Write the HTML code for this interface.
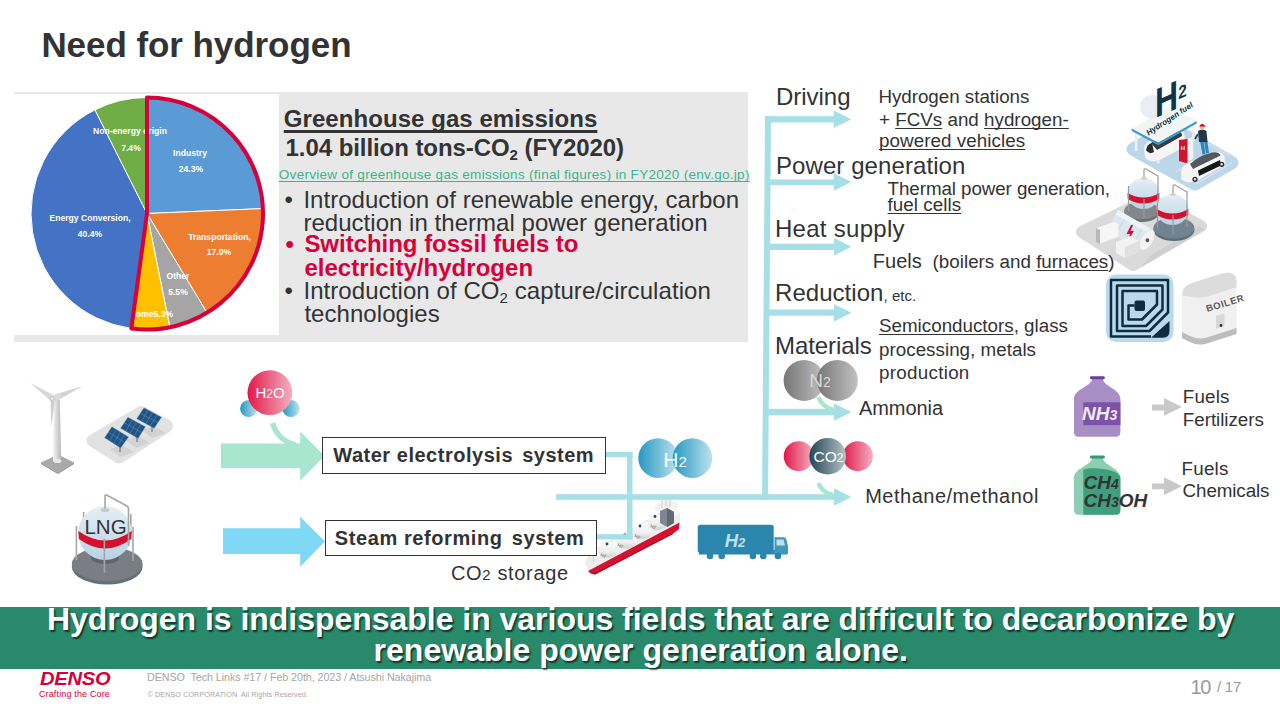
<!DOCTYPE html><html><head><meta charset="utf-8"><title>Need for hydrogen</title><style>
*{margin:0;padding:0;box-sizing:border-box}
html,body{width:1280px;height:720px;overflow:hidden;background:#fff}
body{position:relative;font-family:"Liberation Sans",sans-serif;color:#333}
.t{position:absolute;line-height:1;white-space:nowrap}
.ul{text-decoration:underline;text-decoration-thickness:1px;text-underline-offset:1.5px;text-decoration-skip-ink:none}
.u2{text-decoration:underline;text-decoration-thickness:3px;text-underline-offset:2.5px;text-decoration-skip-ink:none}
.sub{font-size:15px;position:relative;top:4px}
.bul{position:absolute;left:-19px}
.abs{position:absolute}
</style></head><body>
<div class="abs shape" style="left:14px;top:92px;width:734px;height:250px;background:#e8e8e8"></div>
<div class="abs shape" style="left:14px;top:94px;width:265px;height:241px;background:#fff"></div>
<svg class="abs" style="left:0;top:0" width="1280" height="720" viewBox="0 0 1280 720">
<defs>
<linearGradient id="gRed" x1="0" x2="1"><stop offset="0" stop-color="#e2184a"/><stop offset="1" stop-color="#f3b1c1"/></linearGradient>
<linearGradient id="gBlue" x1="0" x2="1"><stop offset="0" stop-color="#2598c2"/><stop offset="1" stop-color="#bde2ee"/></linearGradient>
<linearGradient id="gGrey" x1="0" x2="1"><stop offset="0" stop-color="#767676"/><stop offset="1" stop-color="#c2c2c2"/></linearGradient>
<linearGradient id="gTeal" x1="0" x2="1"><stop offset="0" stop-color="#244654"/><stop offset="1" stop-color="#b3c2c9"/></linearGradient>
<linearGradient id="gTower" x1="0" x2="1"><stop offset="0" stop-color="#f4f4f4"/><stop offset="1" stop-color="#b8b8b8"/></linearGradient>
<linearGradient id="gSphere" x1="0" y1="0" x2="0" y2="1"><stop offset="0" stop-color="#e6eff6"/><stop offset="1" stop-color="#b9d2e3"/></linearGradient>
</defs>
<!-- ship -->
<defs><linearGradient id="gDome" x1="0" y1="0" x2="0" y2="1"><stop offset="0" stop-color="#fafafa"/><stop offset="0.6" stop-color="#efefef"/><stop offset="1" stop-color="#cfcfcf"/></linearGradient></defs>
<g>
<polygon points="585,562.5 589,553 664,511 676,509 680,513 680,522 675,532 595,574.5 588,570" fill="#ededed"/>
<polygon points="589,553 664,511 676,509 680,513 593,560" fill="#f8f8f8"/>
<polygon points="588,571 679.5,522.5 679,529 672,534.5 595,574.5 590,573" fill="#d6102f"/>
<polygon points="590,573 595,574.5 672,534.5 674,532.5 596,572.5" fill="#a50c24"/>
<line x1="589" y1="553" x2="664" y2="511" stroke="#d8d8d8" stroke-width="0.8"/>
<g fill="url(#gDome)">
<ellipse cx="608" cy="550" rx="10" ry="7.5"/><ellipse cx="626" cy="541" rx="10" ry="7.5"/><ellipse cx="642.5" cy="531.5" rx="10" ry="7.5"/><ellipse cx="657.5" cy="522.5" rx="10" ry="7.5"/>
</g>
<g fill="#1d4a66"><circle cx="607" cy="544" r="1.4"/><circle cx="625" cy="535" r="1.4"/><circle cx="640" cy="526" r="1.4"/><circle cx="655" cy="516.5" r="1.4"/></g>
<g font-family="Liberation Sans" font-size="4.5" fill="#555"><text x="600" y="556" transform="rotate(25 600 556)">H2</text><text x="617" y="546" transform="rotate(25 617 546)">H2</text><text x="634" y="537" transform="rotate(25 634 537)">H2</text><text x="650" y="527" transform="rotate(25 650 527)">H2</text></g>
<polygon points="655,505 668,498 678,503 678,508 665,514 655,510" fill="#f2f2f2"/>
<polygon points="660,511 667,508 674,512 674,523 667,527 660,523" fill="#7e8891"/>
<polygon points="667,508 674,512 674,523 667,527" fill="#5f6a73"/>
<g stroke="#d0d0d0" stroke-width="1"><line x1="662" y1="500" x2="662" y2="508"/><line x1="666" y1="498" x2="666" y2="506"/><line x1="670" y1="500" x2="670" y2="507"/><line x1="593.5" y1="543" x2="593.5" y2="562"/></g>
</g>

<g fill="#a6dfe6">
<polygon points="765,116 771,116 768,500 762,500"/>
<rect x="765" y="116.2" width="69" height="6.3"/><polygon points="833.7,110.6 851.3,119.3 833.7,128.1"/>
<rect x="767" y="179.4" width="67" height="5.6"/><polygon points="833.7,173.1 851.3,182 833.7,190.8"/>
<rect x="767" y="243.7" width="67" height="6.3"/><polygon points="834,238 851.5,246.8 834,255.6"/>
<rect x="766" y="309.5" width="68" height="6.2"/><polygon points="834,304.2 851.5,312.8 834,321.5"/>
<rect x="764" y="408.8" width="70" height="6.5"/><polygon points="834,403.4 851.4,412 834,420.7"/>
<rect x="556" y="494.2" width="278" height="5.6"/><polygon points="834,488.3 851.4,497 834,505.7"/>
<rect x="605" y="451.9" width="27.5" height="5.2"/>
<rect x="627" y="451.9" width="5.5" height="87.5"/>
<rect x="596" y="534.2" width="36.5" height="5.2"/>
</g>
<polygon fill="#a8e6cf" points="221,443.5 300.2,443.5 300.2,431.6 324.5,456 300.2,480.7 300.2,468.3 221,468.3"/>
<path d="M272.5,423 Q278,441 296,445" fill="none" stroke="#a8e6cf" stroke-width="5.5"/>
<polygon fill="#7fd9f6" points="223,528.3 300.2,528.3 300.2,516.7 325,541.5 300.2,566.7 300.2,554 223,554"/>
<rect x="322.5" y="437.5" width="283" height="36" fill="#fff" stroke="#333" stroke-width="1"/>
<rect x="325.5" y="520.5" width="271" height="35" fill="#fff" stroke="#333" stroke-width="1"/>
<rect x="0" y="607" width="1280" height="62" fill="#288a6a"/>
<path d="M147,213.5 L147.00,97.50 A116,116 0 0 1 262.90,208.58 Z" fill="#5b9bd5" stroke="#fff" stroke-width="1"/>
<path d="M147,213.5 L262.90,208.58 A116,116 0 0 1 207.04,312.75 Z" fill="#ed7d31" stroke="#fff" stroke-width="1"/>
<path d="M147,213.5 L207.04,312.75 A116,116 0 0 1 169.83,327.23 Z" fill="#a5a5a5" stroke="#fff" stroke-width="1"/>
<path d="M147,213.5 L169.83,327.23 A116,116 0 0 1 131.36,328.44 Z" fill="#ffc000" stroke="#fff" stroke-width="1"/>
<path d="M147,213.5 L131.36,328.44 A116,116 0 0 1 94.94,109.84 Z" fill="#4472c4" stroke="#fff" stroke-width="1"/>
<path d="M147,213.5 L94.94,109.84 A116,116 0 0 1 147.00,97.50 Z" fill="#70ad47" stroke="#fff" stroke-width="1"/><g font-family="Liberation Sans" font-size="8.6" font-weight="700" fill="#fff" text-anchor="middle">
<text x="130" y="134.4">Non-energy origin</text><text x="131" y="150.8">7.4%</text>
<text x="190" y="156">Industry</text><text x="191" y="172.3">24.3%</text>
<text x="90" y="221.3">Energy Conversion,</text><text x="90" y="236.5">40.4%</text>
<text x="219.5" y="240">Transportation,</text><text x="219" y="255">17.0%</text>
<text x="178" y="279.2">Other</text><text x="178" y="294.9">5.5%</text>
<text x="154.5" y="317.4">ome5.3%</text>
</g>
<path d="M147,213.5 L147.00,97.50 A116,116 0 1 1 131.36,328.44 Z" fill="none" stroke="#d7003a" stroke-width="4" stroke-linejoin="round"/>
<!-- H2O -->
<circle cx="248.7" cy="408.5" r="8.6" fill="url(#gBlue)"/>
<circle cx="291" cy="408.5" r="8.6" fill="url(#gBlue)"/>
<circle cx="269.9" cy="392.7" r="22.4" fill="url(#gRed)"/>
<text x="270" y="398.3" font-family="Liberation Sans" font-size="15" fill="#fff" text-anchor="middle">H<tspan font-size="12">2</tspan>O</text>
<!-- N2 -->
<circle cx="804.1" cy="380.4" r="20.5" fill="url(#gGrey)"/>
<circle cx="837.4" cy="380.4" r="20.5" fill="url(#gGrey)"/>
<text x="820" y="387.3" font-family="Liberation Sans" font-size="19" fill="#d8d8d8" text-anchor="middle">N<tspan font-size="14">2</tspan></text>
<path d="M818.5,397 Q821,406 833,410" fill="none" stroke="#a8e6cf" stroke-width="4.5"/>
<!-- CO2 -->
<circle cx="798.7" cy="456.2" r="15" fill="url(#gRed)"/>
<circle cx="857.9" cy="456.2" r="15" fill="url(#gRed)"/>
<circle cx="827.7" cy="456.2" r="18.3" fill="url(#gTeal)"/>
<text x="828.5" y="462" font-family="Liberation Sans" font-size="15.5" fill="#fff" text-anchor="middle">CO<tspan font-size="12">2</tspan></text>
<path d="M818.5,483 Q821,492 833,495" fill="none" stroke="#a8e6cf" stroke-width="4.5"/>
<!-- H2 -->
<circle cx="658.1" cy="458.1" r="19.8" fill="url(#gBlue)"/>
<circle cx="692.5" cy="458.1" r="19.8" fill="url(#gBlue)"/>
<text x="675" y="466.5" font-family="Liberation Sans" font-size="21" fill="#fff" text-anchor="middle">H<tspan font-size="15">2</tspan></text>
<!-- truck -->
<g>
<rect x="697.7" y="524.8" width="76" height="28" rx="2.5" fill="#2a86ad"/>
<rect x="699" y="550" width="88" height="4.5" fill="#2a86ad"/>
<path d="M774.5,537.3 L784,537.3 Q786,537.3 786.5,540 L788,546 L788,554 L774.5,554 Z" fill="#3f97bb"/>
<path d="M776.5,539.5 L783.5,539.5 L785,545.5 L776.5,545.5 Z" fill="#bfe0ec"/>
<g fill="#2a86ad"><circle cx="710" cy="556" r="3.3"/><circle cx="721.7" cy="556" r="3.3"/><circle cx="752.9" cy="556" r="3.3"/><circle cx="763.3" cy="556" r="3.3"/><circle cx="777.9" cy="556" r="3.3"/></g>
<text x="735" y="546.5" font-family="Liberation Sans" font-size="18.5" font-weight="700" font-style="italic" fill="#bfe0ec" text-anchor="middle">H<tspan font-size="13">2</tspan></text>
</g>
<!-- LNG tank -->
<g>
<ellipse cx="107.2" cy="566.5" rx="35.4" ry="18" fill="#64717a"/>
<ellipse cx="107.2" cy="564" rx="35.4" ry="17" fill="#7a7e84"/>
<ellipse cx="105" cy="558" rx="14" ry="6" fill="#5f656b"/>
<g stroke="#a6a6a6" stroke-width="1.6"><line x1="76.4" y1="526" x2="76.4" y2="560"/><line x1="83.6" y1="512" x2="83.6" y2="530"/><line x1="133" y1="527" x2="133" y2="561"/><line x1="130.8" y1="514" x2="130.8" y2="530"/></g>
<circle cx="105.1" cy="533" r="27" fill="url(#gSphere)"/>
<path d="M78.4,531 Q105,550 131.8,531 L131.2,539 Q105,558 78.9,539 Z" fill="#d5102e"/>
<path d="M105,509 L105,496 Q105,494.5 107,495.3 L127,506 Q128.5,507 128.5,509 L128.5,546" fill="none" stroke="#a6a6a6" stroke-width="1.6"/>
<ellipse cx="105" cy="510" rx="4.5" ry="2" fill="#c8c8c8"/>
<line x1="104.4" y1="538.6" x2="104.4" y2="572.6" stroke="#a6a6a6" stroke-width="1.6"/>
<text x="105.5" y="534.4" font-family="Liberation Sans" font-size="20.5" fill="#333" text-anchor="middle">LNG</text>
</g>
<!-- wind turbine -->
<g>
<polygon points="41.1,462.5 57.9,454.5 74,462.5 57.9,472.7" fill="#a9a9a9"/>
<polygon points="41.1,462.5 57.9,472.7 74,462.5 74,464 57.9,474 41.1,464" fill="#8c8c8c"/>
<polygon points="53.8,400 59.8,400 61.2,461 53,461" fill="url(#gTower)"/>
<ellipse cx="57.5" cy="461" rx="4" ry="2" fill="#e8e8e8"/>
<polygon points="30.2,383 53.5,395 51,401" fill="#d8d8d8"/>
<polygon points="82.7,386 54.5,394.5 56.5,401" fill="#d4d4d4"/>
<polygon points="50.5,400 54.5,401 51.4,427.5" fill="#cfcfcf"/>
<polygon points="52,396 60,393 62,398 54,402" fill="#dcdcdc"/>
<circle cx="52.1" cy="398.5" r="2" fill="#f0f0f0" stroke="#aaa" stroke-width="0.6"/>
</g>
<!-- solar -->
<g>
<polygon points="93,440.6 141,412.5 166.5,426 119.2,457" fill="#e2e2e2" stroke="#e2e2e2" stroke-width="13" stroke-linejoin="round"/>
<g fill="#d2d2d2"><polygon points="110,449 122,445 134,452 120,457"/><polygon points="126,440 138,436 150,443 136,448"/><polygon points="142,430 154,426 166,433 152,438"/></g>
<g stroke="#777" stroke-width="1.2"><line x1="120" y1="443" x2="120" y2="452"/><line x1="137" y1="433" x2="137" y2="442"/><line x1="152" y1="423" x2="152" y2="432"/></g>
<g fill="#1f5487" stroke="#6f93b5" stroke-width="0.4">
<polygon points="104.6,437.7 111.9,426.8 128.6,437 120.6,447.9"/>
<polygon points="120.6,428.2 127.9,417.3 145.4,426.8 138.1,438.4"/>
<polygon points="136.7,418.8 144,407.8 161.5,417.3 154.2,428.2"/>
</g>
<g stroke="#6f93b5" stroke-width="0.5">
<line x1="108.2" y1="432.2" x2="124.6" y2="442.4"/><line x1="124.2" y1="422.7" x2="141.7" y2="432.6"/><line x1="140.3" y1="413.3" x2="157.8" y2="422.7"/>
<line x1="116" y1="429.5" x2="110" y2="440.8"/><line x1="120.2" y1="432" x2="114" y2="443"/><line x1="124.4" y1="434.5" x2="118" y2="445.5"/>
<line x1="132" y1="420" x2="126" y2="431"/><line x1="136.3" y1="422.3" x2="130" y2="433.5"/><line x1="140.8" y1="424.5" x2="134" y2="436"/>
<line x1="148" y1="410" x2="142" y2="421"/><line x1="152.5" y1="412.5" x2="146" y2="423.5"/><line x1="157" y1="415" x2="150" y2="426"/>
</g>
</g>
<!-- bottles -->
<g>
<path d="M1092,379 L1103,379 C1103,386 1120.4,389 1120.4,399 L1120.4,432 Q1120.4,436.7 1116,436.7 L1078.5,436.7 Q1074,436.7 1074,432 L1074,399 C1074,389 1092,386 1092,379 Z" fill="#a98ec6"/>
<rect x="1090" y="376.2" width="14.8" height="3" rx="1.2" fill="#6b3d9d"/>
<rect x="1083.3" y="402.3" width="37.1" height="22.9" fill="#7b52a9"/>
<text x="1082" y="420" font-family="Liberation Sans" font-size="19" font-weight="700" font-style="italic" fill="#efeaf4">NH<tspan font-size="14">3</tspan></text>
</g>
<g>
<path d="M1092,458 L1103,458 C1103,465 1120.4,468 1120.4,478 L1120.4,510 Q1120.4,514.8 1116,514.8 L1078.5,514.8 Q1074,514.8 1074,510 L1074,478 C1074,468 1092,465 1092,458 Z" fill="#8dcdb3"/>
<path d="M1083.3,469.5 C1095,466 1120.4,470 1120.4,478 L1120.4,510 Q1120.4,514.8 1116,514.8 L1083.3,514.8 Z" fill="#3fa07e"/>
<rect x="1090" y="455.4" width="14.8" height="3" rx="1.2" fill="#2f9a74"/>
<text x="1083.5" y="488.75" font-family="Liberation Sans" font-size="19" font-weight="700" font-style="italic" fill="#333">CH<tspan font-size="14">4</tspan></text>
<text x="1083.5" y="506.5" font-family="Liberation Sans" font-size="19" font-weight="700" font-style="italic" fill="#333">CH<tspan font-size="14">3</tspan>OH</text>
</g>
<g fill="#c9c9c9">
<polygon points="1152,404.4 1164,404.4 1164,398 1181.9,407 1164,415.8 1164,410.6 1152,410.6"/>
<polygon points="1152,483.5 1164,483.5 1164,477.3 1181.9,486.2 1164,495 1164,489.2 1152,489.2"/>
</g>
<!-- chip icon -->
<g>
<rect x="1106" y="274.5" width="67.5" height="67.5" rx="10" fill="#b9d9ec"/>
<path d="M1134.5,305.5 L1128.5,305.5 L1128.5,319.5 L1142.0,319.5 L1157.0,304.5 L1157.0,291.0 L1122.5,291.0 L1122.5,326.0 L1146.0,326.0 L1162.5,309.5 L1162.5,285.5 L1117.0,285.5 L1117.0,331.0 L1149.5,331.0 L1168.0,312.5 L1168.0,280.0 L1111.0,280.0 L1111.0,336.5 L1151.0,336.5" fill="none" stroke="#0d2c3e" stroke-width="2.5" stroke-linejoin="round"/>
<rect x="1134.5" y="300.5" width="10.5" height="10.5" rx="2" fill="#0d2c3e"/>
<path d="M1151,337.8 L1169.5,321 L1169.5,331 Q1169.5,337.8 1163,337.8 Z" fill="#0d2c3e"/>
</g>
<!-- boiler -->
<g>
<path d="M1182,296 Q1182,286 1192,283 L1222,273.5 Q1236.5,270 1236.5,282 L1236.5,334 L1206,343.8 Q1198,346 1190,342 L1182,338 Z" fill="#f0f0f0"/>
<path d="M1182,296 Q1182,286 1192,283 L1222,273.5 Q1236.5,270 1236.5,282 L1236.5,287 L1206,297 Q1196,299 1187,296 Z" fill="#dcdcdc"/>
<path d="M1182,332 L1190,336 Q1198,340 1206,337.8 L1236.5,328 L1236.5,334 L1206,343.8 Q1198,346 1190,342 L1182,338 Z" fill="#bdbdbd"/>
<text x="1225" y="306.5" font-family="Liberation Sans" font-size="9.5" font-weight="700" fill="#5a5a5a" text-anchor="middle" transform="rotate(-17 1225 303)" letter-spacing="0.6">BOILER</text>
<rect x="1216" y="315.5" width="8.5" height="13" fill="#d8d8d8" transform="skewY(-17) translate(0 372)"/>
<circle cx="1221" cy="325.5" r="1.4" fill="#333"/>
</g>
<!-- power plant -->
<g>
<polygon points="1082,232 1149.4,199 1201,226 1133,265" fill="#dadada" stroke="#dadada" stroke-width="12" stroke-linejoin="round"/>
<polygon points="1150,256 1199,226 1205,229 1140,268" fill="#cfcfcf"/>
<ellipse cx="1141.8" cy="212.5" rx="17.5" ry="9.5" fill="#6a7076"/>
<ellipse cx="1141.8" cy="210.5" rx="17.5" ry="9" fill="#83878c"/>
<ellipse cx="1143.5" cy="193.5" rx="16" ry="15.5" fill="url(#gSphere)"/>
<path d="M1127.6,193 Q1143.5,202 1159.4,193 L1159.2,199 Q1143.5,208 1127.8,199 Z" fill="#d5102e"/>
<path d="M1144,178 L1144,170 Q1144,168.5 1146,169 L1158,176 L1158,210" fill="none" stroke="#999" stroke-width="1.2"/>
<ellipse cx="1144" cy="178.5" rx="3" ry="1.3" fill="#ccc"/>
<g stroke="#999" stroke-width="1.2"><line x1="1128.5" y1="186" x2="1128.5" y2="211"/><line x1="1144" y1="199" x2="1144" y2="218"/></g>
<ellipse cx="1173.9" cy="230" rx="20.5" ry="11" fill="#5d6c78"/>
<ellipse cx="1173.9" cy="228" rx="20.5" ry="10.5" fill="#72828f"/>
<ellipse cx="1172.5" cy="209.5" rx="16" ry="15.5" fill="url(#gSphere)"/>
<path d="M1156.6,209 Q1172.5,218 1188.4,209 L1188.2,215 Q1172.5,224 1156.8,215 Z" fill="#d5102e"/>
<path d="M1173,194 L1173,186 Q1173,184.5 1175,185 L1187,192 L1187,227" fill="none" stroke="#999" stroke-width="1.2"/>
<ellipse cx="1173" cy="194.5" rx="3" ry="1.3" fill="#ccc"/>
<g stroke="#999" stroke-width="1.2"><line x1="1157.5" y1="202" x2="1157.5" y2="228"/><line x1="1173" y1="215" x2="1173" y2="234"/></g>
<g transform="translate(1147,240) rotate(30)">
<rect x="-40" y="-11.5" width="40" height="23" fill="#dbe8f1"/>
<g stroke="#c3d7e5" stroke-width="0.9"><line x1="-30" y1="-11.5" x2="-30" y2="11.5"/><line x1="-20" y1="-11.5" x2="-20" y2="11.5"/><line x1="-10" y1="-11.5" x2="-10" y2="11.5"/></g>
<rect x="-40" y="-11.5" width="40" height="5" fill="#eef4f8"/>
<ellipse cx="0" cy="0" rx="6" ry="11.5" fill="#f3f3f3" stroke="#dadada" stroke-width="0.6"/>
<circle cx="0.5" cy="0" r="1.9" fill="#555"/>
</g>
<path d="M1131,225 L1126.5,234 L1130,234 L1127,242 L1134,231 L1130.5,231 L1133,225 Z" fill="#d5102e"/>
<polygon points="1096,228 1115,221 1119,224 1119,237 1100,244 1096,242" fill="#f6f6f6" stroke="#d9d9d9" stroke-width="0.6"/>
<polygon points="1096,228 1100,230 1100,244 1096,242" fill="#b9b9b9"/>
<polygon points="1116,242 1130,236 1139,241 1139,252 1125,258 1116,253" fill="#f2f2f2"/>
<polygon points="1125,247 1139,241 1139,252 1125,258" fill="#e0e0e0"/>
</g>
<!-- hydrogen station -->
<g>
<polygon points="1133,149.3 1170,127 1232,162.7 1195,184" fill="#bcd6ea" stroke="#bcd6ea" stroke-width="13" stroke-linejoin="round"/>
<g stroke="#e8f0f7" stroke-width="0.8" fill="none"><line x1="1196" y1="184" x2="1232" y2="163"/><line x1="1176" y1="172" x2="1200" y2="158"/><line x1="1205" y1="142" x2="1230" y2="156"/></g>
<g fill="#f0f0f0"><rect x="1134.8" y="131" width="2.6" height="20"/><rect x="1157" y="143" width="2.6" height="20.5"/><rect x="1192.3" y="124" width="2.4" height="17"/></g>
<path d="M1144,152 Q1142,144 1152,139 L1176,130 Q1184,128 1185,136 L1185,147 L1160,160 Q1150,164 1145,158 Z" fill="#f5f5f5" stroke="#d0d0d0" stroke-width="0.5"/>
<path d="M1151,143 Q1160,136 1177,131 Q1182,131 1182,136 L1157,150 Z" fill="#3a3d40"/>
<path d="M1146,150 Q1147,144 1152,143 L1154,152 Q1149,155 1146,150 Z" fill="#2a2d30"/>
<polygon points="1187.5,139 1193.3,136.8 1193.3,158 1187.5,163.5" fill="#f2f2f2"/>
<polygon points="1179,140 1187.5,139 1187.5,163.5 1179,161" fill="#d6102f"/>
<text x="1183" y="150" font-family="Liberation Sans" font-size="6" font-weight="700" fill="#fff" text-anchor="middle">H</text>
<path d="M1200,141 L1203.5,141 L1205.5,154 L1202.5,154.5 Z M1204,141 L1207.3,141 L1209,153 L1206,153.5 Z" fill="#2e86bd"/>
<path d="M1198,131 Q1202,128 1206.5,131 L1207.5,142 L1199,142 Z" fill="#23394a"/>
<path d="M1198,134 L1195,139" stroke="#23394a" stroke-width="1.6"/>
<circle cx="1202" cy="127.5" r="2.4" fill="#e6bfa4"/>
<path d="M1199,126.5 Q1202,121.5 1205,126 L1206.5,126.8 Z" fill="#d6102f"/>
<path d="M1181,175 Q1179,167 1189,162 L1211,152.5 Q1222,149 1225,157 L1225.5,165 L1197,181 Q1186,185 1181,179 Z" fill="#f5f5f5" stroke="#d0d0d0" stroke-width="0.5"/>
<path d="M1190,164 Q1198,156 1212,152.5 Q1219,151.5 1220.5,155.5 L1193,169 Z" fill="#55595d"/>
<path d="M1198,170.5 L1220,160 L1221,165.5 L1199,176 Z" fill="#15181a"/>
<circle cx="1195" cy="179.3" r="2.6" fill="#2b2b2b"/><circle cx="1195" cy="179.3" r="1.2" fill="#e0e0e0"/>
<circle cx="1221.7" cy="164.3" r="2.6" fill="#2b2b2b"/><circle cx="1221.7" cy="164.3" r="1.2" fill="#e0e0e0"/>
<polygon points="1131.7,128.5 1170,106.5 1196.7,121 1158.3,142.7" fill="#f2f4f6"/>
<polygon points="1131.7,128.5 1158.3,142.7 1158.3,145.2 1131.7,131" fill="#3c9ad0"/>
<polygon points="1158.3,142.7 1196.7,121 1196.7,123.5 1158.3,145.2" fill="#3c9ad0"/>
<circle cx="1151.7" cy="106.8" r="11.7" fill="#e8eef3"/>
<g transform="translate(1166.5,113) skewY(-24)"><text x="0" y="0" font-family="Liberation Sans" font-size="41" font-weight="700" fill="#10354a" text-anchor="middle" transform="scale(0.78 1)">H</text></g>
<g transform="translate(1182.5,97.5) skewY(-24)"><text x="0" y="0" font-family="Liberation Sans" font-size="18" font-weight="700" fill="#10354a" text-anchor="middle" transform="scale(0.85 1)">2</text></g>
<text x="1171" y="121" font-family="Liberation Sans" font-size="8" font-weight="700" font-style="italic" fill="#10354a" text-anchor="middle" transform="rotate(-33 1171 121)">Hydrogen fuel</text>
</g>

</svg>
<div class="t" id="title" style="left:41.40px;top:26.51px;font-size:35px;font-weight:700;color:#333;letter-spacing:-0.063px;">Need for hydrogen</div>
<div class="t" id="ghg" style="left:283.80px;top:106.60px;font-size:24px;font-weight:700;color:#333;letter-spacing:0.061px;"><span class="u2">Greenhouse gas emissions</span></div>
<div class="t" id="bil" style="left:285.60px;top:135.51px;font-size:24px;font-weight:700;color:#333;letter-spacing:-0.068px;">1.04 billion tons-CO<span class="sub">2</span> (FY2020)</div>
<div class="t" id="link" style="left:278.80px;top:167.60px;font-size:13.5px;font-weight:400;color:#3cb48c;letter-spacing:0.293px;"><span class="ul">Overview of greenhouse gas emissions (final figures) in FY2020 (env.go.jp)</span></div>
<div class="t" id="b1" style="left:303.40px;top:187.60px;font-size:24px;font-weight:400;color:#333;letter-spacing:0.030px;"><span class="bul">•</span>Introduction of renewable energy, carbon</div>
<div class="t" id="b2" style="left:303.40px;top:210.60px;font-size:24px;font-weight:400;color:#333;letter-spacing:0.033px;">reduction in thermal power generation</div>
<div class="t" id="b3" style="left:304.40px;top:232.40px;font-size:24px;font-weight:700;color:#d7003a;letter-spacing:-0.024px;"><span class="bul">•</span>Switching fossil fuels to</div>
<div class="t" id="b4" style="left:304.40px;top:256.01px;font-size:24px;font-weight:700;color:#d7003a;letter-spacing:0.032px;">electricity/hydrogen</div>
<div class="t" id="b5" style="left:303.40px;top:279.01px;font-size:24px;font-weight:400;color:#333;letter-spacing:0.077px;"><span class="bul">•</span>Introduction of CO<span class="sub">2</span> capture/circulation</div>
<div class="t" id="b6" style="left:304.40px;top:301.51px;font-size:24px;font-weight:400;color:#333;letter-spacing:0.054px;">technologies</div>
<div class="t" id="drv" style="left:776.00px;top:84.81px;font-size:24px;font-weight:400;color:#333;letter-spacing:-0.033px;">Driving</div>
<div class="t" id="hs1" style="left:878.40px;top:87.51px;font-size:18.8px;font-weight:400;color:#333;letter-spacing:-0.025px;">Hydrogen stations</div>
<div class="t" id="hs2" style="left:879.00px;top:110.60px;font-size:18.8px;font-weight:400;color:#333;letter-spacing:0.011px;">+ <span class="ul">FCVs</span> and <span class="ul">hydrogen-</span></div>
<div class="t" id="hs3" style="left:879.00px;top:131.51px;font-size:18.8px;font-weight:400;color:#333;letter-spacing:0.066px;"><span class="ul">powered vehicles</span></div>
<div class="t" id="pg" style="left:776.00px;top:154.01px;font-size:24px;font-weight:400;color:#333;letter-spacing:0.080px;">Power generation</div>
<div class="t" id="tp1" style="left:887.60px;top:179.60px;font-size:18.8px;font-weight:400;color:#333;letter-spacing:-0.083px;">Thermal power generation,</div>
<div class="t" id="tp2" style="left:887.60px;top:195.81px;font-size:18.8px;font-weight:400;color:#333;letter-spacing:0.045px;"><span class="ul">fuel cells</span></div>
<div class="t" id="hts" style="left:775.00px;top:216.51px;font-size:24px;font-weight:400;color:#333;letter-spacing:0.280px;">Heat supply</div>
<div class="t" id="fu" style="left:872.80px;top:251.01px;font-size:20px;font-weight:400;color:#333;letter-spacing:0.014px;">Fuels <span style="font-size:18.8px">&nbsp;(boilers and <span class="ul">furnaces</span>)</span></div>
<div class="t" id="red" style="left:775.00px;top:281.21px;font-size:24px;font-weight:400;color:#333;letter-spacing:0.043px;">Reduction<span style="font-size:15px">, etc.</span></div>
<div class="t" id="se1" style="left:879.00px;top:317.10px;font-size:18.8px;font-weight:400;color:#333;letter-spacing:0.000px;"><span class="ul">Semiconductors</span>, glass</div>
<div class="t" id="se2" style="left:879.00px;top:341.01px;font-size:18.8px;font-weight:400;color:#333;letter-spacing:0.024px;">processing, metals</div>
<div class="t" id="se3" style="left:879.00px;top:364.41px;font-size:18.8px;font-weight:400;color:#333;letter-spacing:0.289px;">production</div>
<div class="t" id="mat" style="left:775.00px;top:333.81px;font-size:24px;font-weight:400;color:#333;letter-spacing:-0.074px;">Materials</div>
<div class="t" id="amm" style="left:859.00px;top:397.51px;font-size:20px;font-weight:400;color:#333;letter-spacing:-0.066px;">Ammonia</div>
<div class="t" id="meth" style="left:865.20px;top:485.71px;font-size:20px;font-weight:400;color:#333;letter-spacing:0.506px;">Methane/methanol</div>
<div class="t" id="f1" style="left:1182.80px;top:388.10px;font-size:18.8px;font-weight:400;color:#333;letter-spacing:0.174px;">Fuels</div>
<div class="t" id="f2" style="left:1182.80px;top:411.06px;font-size:18.8px;font-weight:400;color:#333;letter-spacing:-0.030px;">Fertilizers</div>
<div class="t" id="f3" style="left:1181.60px;top:460.01px;font-size:18.8px;font-weight:400;color:#333;letter-spacing:0.200px;">Fuels</div>
<div class="t" id="f4" style="left:1182.60px;top:482.31px;font-size:18.8px;font-weight:400;color:#333;letter-spacing:-0.099px;">Chemicals</div>
<div class="t" id="wes" style="left:333.25px;top:444.90px;font-size:20px;font-weight:700;color:#333;letter-spacing:0.519px;">Water electrolysis <span style="margin-left:3px"></span>system</div>
<div class="t" id="srs" style="left:334.80px;top:527.60px;font-size:20px;font-weight:700;color:#333;letter-spacing:0.593px;">Steam reforming <span style="margin-left:3px"></span>system</div>
<div class="t" id="co2s" style="left:450.90px;top:562.81px;font-size:20px;font-weight:400;color:#333;letter-spacing:0.660px;">CO<span style="font-size:15px">2</span> storage</div>
<div class="t" id="ban1" style="left:47.00px;top:603.30px;font-size:32px;font-weight:700;color:#fff;letter-spacing:-0.029px;text-shadow:1.5px 1.5px 1.5px rgba(0,0,0,.6)">Hydrogen is indispensable in various fields that are difficult to decarbonize by</div>
<div class="t" id="ban2" style="left:373.50px;top:634.30px;font-size:32px;font-weight:700;color:#fff;letter-spacing:0.031px;text-shadow:1.5px 1.5px 1.5px rgba(0,0,0,.6)">renewable power generation alone.</div>
<div class="t" id="dn" style="left:40.20px;top:670.10px;font-size:18.5px;font-weight:700;color:#d7003a;letter-spacing:-0.250px;font-style:italic;transform:scaleX(1.09);transform-origin:0 0">DENSO</div>
<div class="t" id="ctc" style="left:38.90px;top:689.80px;font-size:9px;font-weight:400;color:#d7003a;letter-spacing:0.151px;">Crafting the Core</div>
<div class="t" id="ftr" style="left:147.00px;top:671.71px;font-size:10.8px;font-weight:400;color:#a6a6a6;letter-spacing:-0.097px;">DENSO&nbsp; Tech Links #17 / Feb 20th, 2023 / Atsushi Nakajima</div>
<div class="t" id="cpr" style="left:147.50px;top:690.60px;font-size:7.2px;font-weight:400;color:#a6a6a6;letter-spacing:0.097px;">© DENSO CORPORATION&nbsp; All Rights Reserved.</div>
<div class="t" id="pn" style="left:1190.60px;top:676.60px;font-size:20px;font-weight:400;color:#9a9a9a;letter-spacing:-1.400px;">10</div>
<div class="t" id="pt" style="left:1217.00px;top:678.60px;font-size:15px;font-weight:400;color:#9a9a9a;letter-spacing:-0.233px;">/ 17</div>
</body></html>
